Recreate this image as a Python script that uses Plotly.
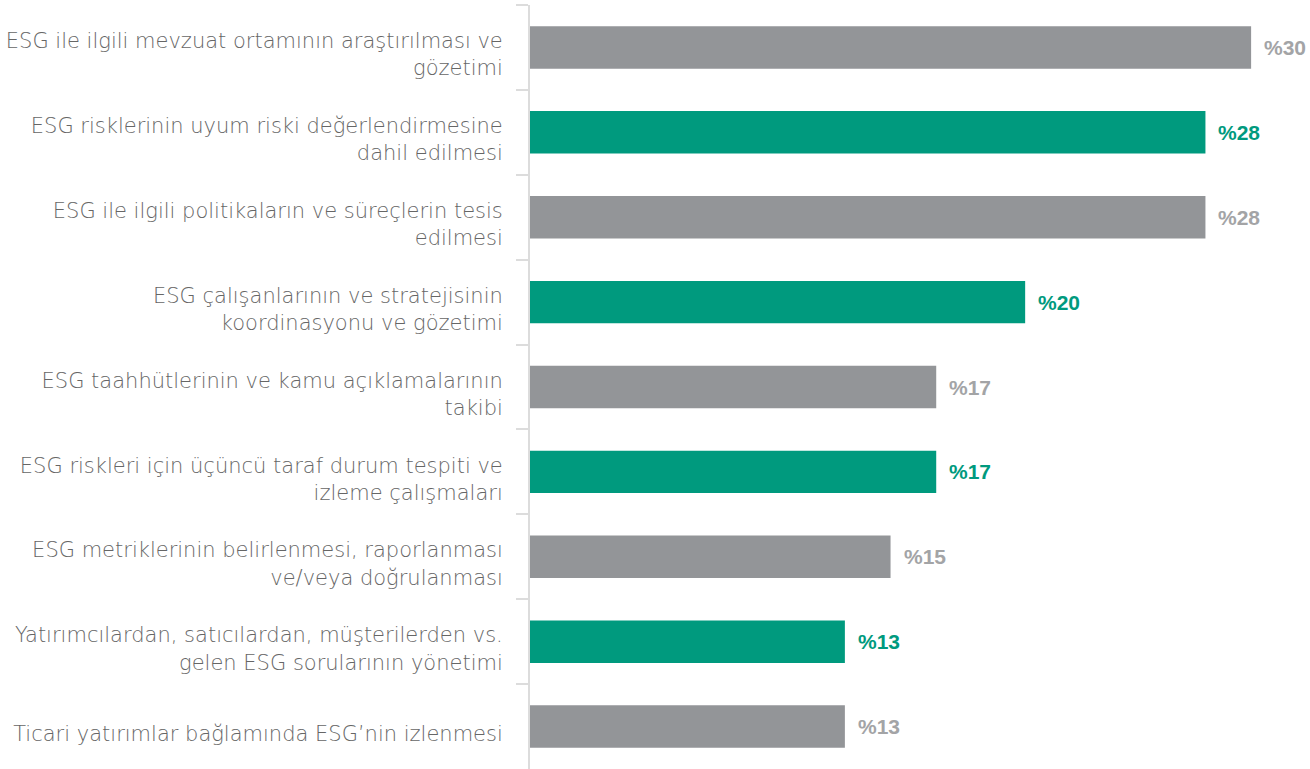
import plotly.graph_objects as go

categories = [
    "ESG ile ilgili mevzuat ortamının araştırılması ve<br>gözetimi",
    "ESG risklerinin uyum riski değerlendirmesine<br>dahil edilmesi",
    "ESG ile ilgili politikaların ve süreçlerin tesis<br>edilmesi",
    "ESG çalışanlarının ve stratejisinin<br>koordinasyonu ve gözetimi",
    "ESG taahhütlerinin ve kamu açıklamalarının<br>takibi",
    "ESG riskleri için üçüncü taraf durum tespiti ve<br>izleme çalışmaları",
    "ESG metriklerinin belirlenmesi, raporlanması<br>ve/veya doğrulanması",
    "Yatırımcılardan, satıcılardan, müşterilerden vs.<br>gelen ESG sorularının yönetimi",
    "Ticari yatırımlar bağlamında ESG’nin izlenmesi",
]
values = [30.0, 28.1, 28.1, 20.6, 16.9, 16.9, 15.0, 13.1, 13.1]
labels = ["%30", "%28", "%28", "%20", "%17", "%17", "%15", "%13", "%13"]

GRAY = "#939598"
GREEN = "#009A7E"
GRAY_TXT = "#a3a4a6"
colors = [GRAY if i % 2 == 0 else GREEN for i in range(len(values))]
txt_colors = [GRAY_TXT if i % 2 == 0 else GREEN for i in range(len(values))]

fig = go.Figure()
fig.add_trace(go.Bar(
    x=values, y=categories, orientation="h",
    marker=dict(color=colors, line=dict(width=0)),
    width=0.5, hoverinfo="skip",
))

for c, v, t, col in zip(categories, values, labels, txt_colors):
    fig.add_annotation(
        x=v, y=c, text="<b>" + t + "</b>", showarrow=False,
        xanchor="left", xshift=11, yanchor="middle",
        font=dict(family="Liberation Sans, Arial, sans-serif", size=21, color=col),
    )

fig.update_layout(
    width=1310, height=769,
    margin=dict(l=530, r=0, t=5, b=0),
    plot_bgcolor="white", paper_bgcolor="white",
    showlegend=False,
    font=dict(family="DejaVu Sans, sans-serif", size=21, color="#6a6a6a"),
)
fig.update_xaxes(range=[0, 32.45], visible=False, showgrid=False, zeroline=False,
                 automargin=False)
fig.update_yaxes(
    autorange="reversed", showline=True, linecolor="#dcdcdc", linewidth=2,
    ticks="outside", tickson="boundaries", ticklen=12, tickcolor="#dcdcdc", tickwidth=2,
    showgrid=False, ticklabelstandoff=21, ticklabelshift=-7, automargin=False,
    tickfont=dict(family="DejaVu Sans, sans-serif", size=21, color="#666666", weight=300),
)

fig.write_html("out.html", config={"displayModeBar": False},
               post_script="document.body.style.margin='0';document.body.style.padding='0';")
